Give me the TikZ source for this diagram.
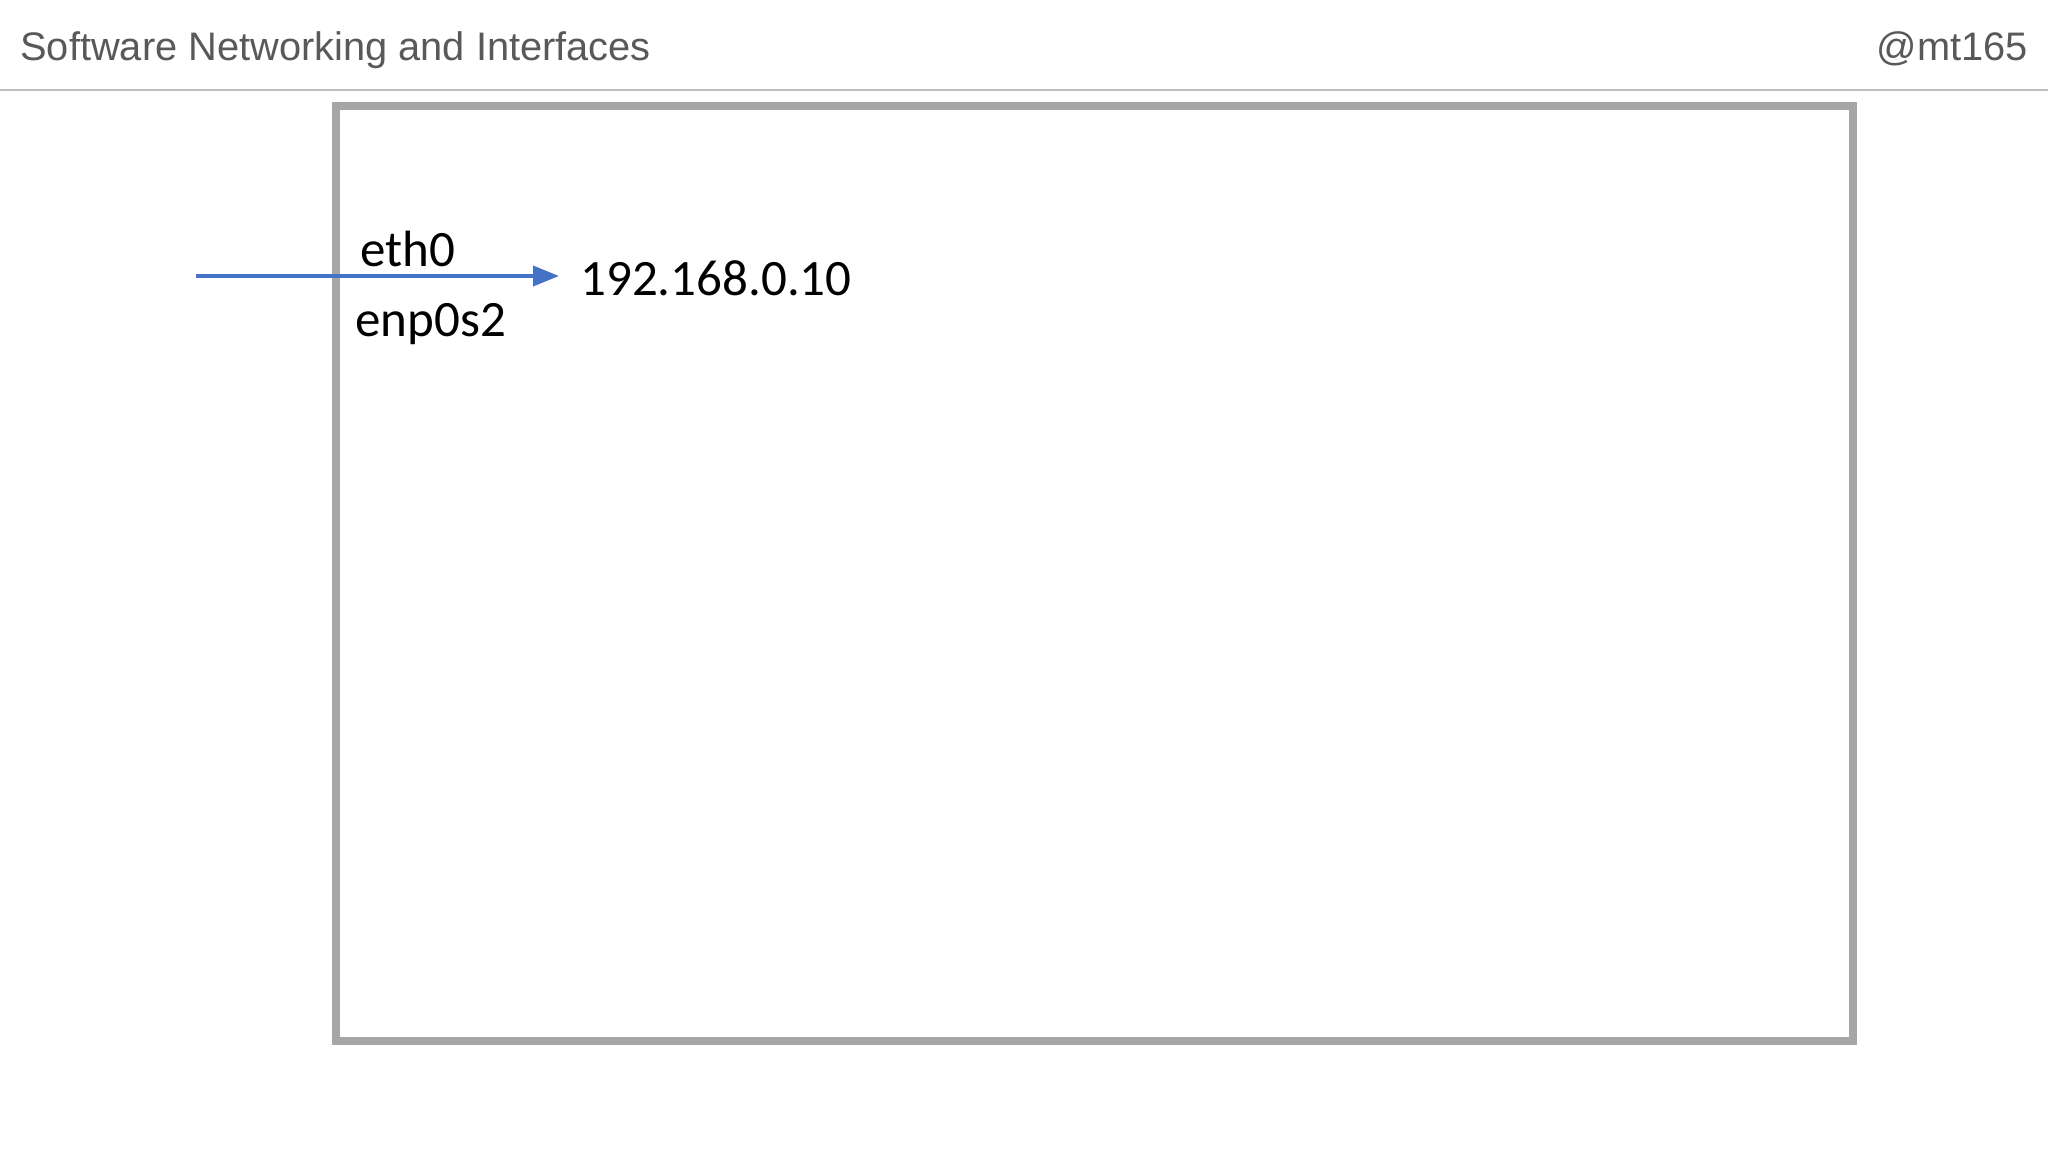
\documentclass[tikz,border=0pt]{standalone}
\usepackage{fontspec}
\setmainfont{Carlito}
\newfontfamily\hdrfont{Liberation Sans}
\usetikzlibrary{arrows.meta}
\definecolor{hdrgray}{HTML}{595959}
\definecolor{rulegray}{HTML}{BFBFBF}
\definecolor{boxgray}{HTML}{A6A6A6}
\definecolor{arrblue}{HTML}{4472C4}
\tikzset{
  hdrtext/.style={font=\hdrfont\fontsize{19.9pt}{24pt}\selectfont, text=hdrgray, inner sep=0pt},
  lbl/.style={font=\fontsize{25.5pt}{30pt}\selectfont, text=black, inner sep=0pt},
  hostbox/.style={draw=boxgray, line width=4pt, minimum width=758.5pt, minimum height=467.5pt, inner sep=0pt},
  link/.style={draw=arrblue, line width=1.9pt, -{Triangle[length=13pt,width=10pt]}}
}
\begin{document}
\begin{tikzpicture}[x={(0.5pt,0pt)}, y={(0pt,-0.5pt)}]
\useasboundingbox (0,0) rectangle (2048,1152);
\fill[white] (0,0) rectangle (2048,1152);
% header
\node[hdrtext, anchor=base west] (title) at (20,60) {Software Networking and Interfaces};
\node[hdrtext, anchor=base east] (author) at (2028,60) {@mt165};
\draw[rulegray, line width=1pt] (0,90) coordinate (rl) -- (2048,90) coordinate (rr);
% host box
\node[hostbox] (host) at (1094.5,573.5) {};
% interface
\coordinate (src) at (196,276);
\node[lbl, anchor=base west] (ip) at (580,295) {192.168.0.10};
\coordinate (tip) at (559,276);
\draw[link] (src) -- (tip);
\node[lbl, anchor=base west] (eth) at (360,266) {eth0};
\node[lbl, anchor=base west] (enp) at (355,336) {enp0s2};
\end{tikzpicture}
\end{document}
